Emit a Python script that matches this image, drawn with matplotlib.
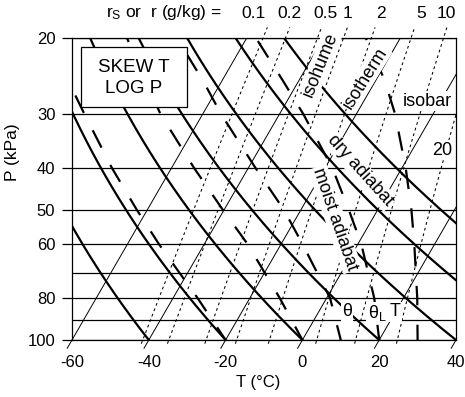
import numpy as np
import matplotlib
matplotlib.use("Agg")
import matplotlib.pyplot as plt
from matplotlib.transforms import Affine2D, Bbox, TransformedBbox
from matplotlib.patches import Rectangle
from matplotlib.ticker import NullLocator, NullFormatter

plt.rcParams['font.family'] = ['Liberation Sans', 'DejaVu Sans']
plt.rcParams['mathtext.fontset'] = 'custom'
plt.rcParams['mathtext.rm'] = 'Liberation Sans'
plt.rcParams['mathtext.it'] = 'Liberation Sans:italic'
plt.rcParams['axes.unicode_minus'] = False
plt.rcParams['lines.scale_dashes'] = False

# Chart values
isotherm_T = [-60, -40, -20, 0, 20, 40]
isobar_P = [20, 30, 40, 50, 60, 70, 80, 90, 100]
p_ticks = [20, 30, 40, 50, 60, 80, 100]
t_ticks = [-60, -40, -20, 0, 20, 40]
dry_theta = [-40, -20, 0, 20, 40, 60, 80]          # deg C at 100 kPa
mixing_ratio = [0.1, 0.2, 0.5, 1, 2, 5, 10, 20]     # g/kg
ratio_labels = ["0.1", "0.2", "0.5", "1", "2", "5", "10"]
ratio_label_x = [253, 289, 325, 347, 381, 421, 446]  # px from left

# moist adiabats (T in deg C at these pressures, kPa)
moist_P = [100, 80, 60, 50, 40, 30, 25, 20]
moist_m20 = [-20, -33.6, -51.8, -62.7, -75.5, -90.8, -100.3, -109]
moist_0 = [0, -12.2, -28.7, -40.3, -54.1, -71.0, -80.1, -91.2]
moist_10 = [10, 0.9, -14.4, -24.4, -38.1, -55.2, -65.2, -78.2]
moist_20 = [20, 12.4, 0.9, -7.5, -18.1, -33.8, -44.4, -57.6]
moist_30 = [30, 23.6, 14.7, 8.8, 1.0, -9.9, -17.8, -29.0]
moist_lines = [moist_m20, moist_0, moist_10, moist_20, moist_30]

W, H = 465, 397
fig = plt.figure(figsize=(W / 100, H / 100), dpi=100)
ax = fig.add_axes([72 / W, 57 / H, 384 / W, 302 / H])
ax.set_yscale("log")
ax.set_xlim(-60, 40)
ax.set_ylim(100, 20)
ax.set_autoscale_on(False)

# skewed temperature axis
skew = 0.455
skewT = ax.transScale + ax.transLimits + Affine2D().skew(np.arctan(skew), 0) + ax.transAxes

below_box = TransformedBbox(Bbox([[-0.02, -0.03], [1, 1]]), ax.transAxes)
above_box = TransformedBbox(Bbox([[0, -0.012], [1, 1.04]]), ax.transAxes)

# isobars
for p in isobar_P:
    ax.axhline(p, color='k', lw=0.9)

# isotherms
for t in isotherm_T:
    ln, = ax.plot([t, t], [104.5, 20], color='k', lw=0.7, transform=skewT)
    ln.set_clip_box(below_box)

# dry adiabats
P = np.linspace(100, 20, 200)
for th in dry_theta:
    T = (th + 273.15) * (P / 100.0) ** 0.286 - 273.15
    ax.plot(T, P, color='k', lw=1.6, transform=skewT)

# moist adiabats
for tm in moist_lines:
    ax.plot(tm, moist_P, color='k', lw=1.6, linestyle=(3, (14, 14)), transform=skewT)

# isohumes
Pr = np.linspace(102, 18.9, 200)
for r in mixing_ratio:
    e = (r / 1000.0) * Pr * 10 / (0.622 + r / 1000.0)
    a = np.log(e / 6.112)
    Td = 243.5 * a / (17.67 - a)
    ln, = ax.plot(Td, Pr, color='k', lw=0.75, linestyle=(0, (2, 2.2)), transform=skewT)
    ln.set_clip_box(above_box)

# axes
ax.set_yticks(p_ticks)
ax.set_yticklabels([str(p) for p in p_ticks])
ax.yaxis.set_minor_locator(NullLocator())
ax.yaxis.set_minor_formatter(NullFormatter())
ax.set_xticks(t_ticks)
ax.set_xticklabels([str(t) for t in t_ticks])
ax.tick_params(axis='y', which='major', length=7, width=0.9, pad=5, labelsize=12)
ax.tick_params(axis='x', which='major', length=0, pad=11, labelsize=12)
for s in ax.spines.values():
    s.set_linewidth(0.9)


def apos(x, y):
    return ((x - 72) / 384, (340 - y) / 302)


white = dict(boxstyle='square,pad=0.08', fc='white', ec='none')

# title box
bx0, by0 = apos(81, 107)
bx1, by1 = apos(187, 47)
ax.add_patch(Rectangle((bx0, by0), bx1 - bx0, by1 - by0, transform=ax.transAxes,
                       fc='white', ec='k', lw=0.9, zorder=5, clip_on=False))
ax.text(*apos(134, 78), "SKEW T\nLOG P", transform=ax.transAxes, ha='center', va='center',
        fontsize=13.5, linespacing=1.3, zorder=6)

# line labels
ax.text(*apos(320, 65), "isohume", transform=ax.transAxes, rotation=68,
        ha='center', va='center', fontsize=13, bbox=white, zorder=4)
ax.text(*apos(365, 78), "isotherm", transform=ax.transAxes, rotation=58,
        ha='center', va='center', fontsize=13, bbox=white, zorder=4)
ax.text(*apos(427, 101), "isobar", transform=ax.transAxes,
        ha='center', va='center', fontsize=13, bbox=white, zorder=4)
ax.text(*apos(442, 150), "20", transform=ax.transAxes,
        ha='center', va='center', fontsize=13, bbox=white, zorder=4)
ax.text(*apos(360, 171), "dry adiabat", transform=ax.transAxes, rotation=-48,
        ha='center', va='center', fontsize=13, bbox=white, zorder=4)
ax.text(*apos(335, 219), "moist adiabat", transform=ax.transAxes, rotation=-71,
        ha='center', va='center', fontsize=13, bbox=white, zorder=4)
ax.text(*apos(347, 312), "θ", transform=ax.transAxes,
        ha='center', va='center', fontsize=13, bbox=white, zorder=4)
ax.text(*apos(377, 313), r"$\mathregular{θ_L}$", transform=ax.transAxes,
        ha='center', va='center', fontsize=13, bbox=white, zorder=4)
ax.text(*apos(395, 312), "T", transform=ax.transAxes,
        ha='center', va='center', fontsize=13, bbox=white, zorder=4)

# top mixing-ratio labels
ty = 1 - 13 / H
fig.text(106 / W, ty, r"$\mathregular{r_S}$ or  r (g/kg) =", ha='left', va='center', fontsize=12.5)
for lab, x in zip(ratio_labels, ratio_label_x):
    fig.text(x / W, ty, lab, ha='center', va='center', fontsize=12.5)

# axis titles
fig.text(12 / W, 1 - 152 / H, "P (kPa)", rotation=90, ha='center', va='center', fontsize=12.5)
fig.text(258 / W, 1 - 383 / H, "T (°C)", ha='center', va='center', fontsize=12)

fig.savefig("out.png", dpi=100)
